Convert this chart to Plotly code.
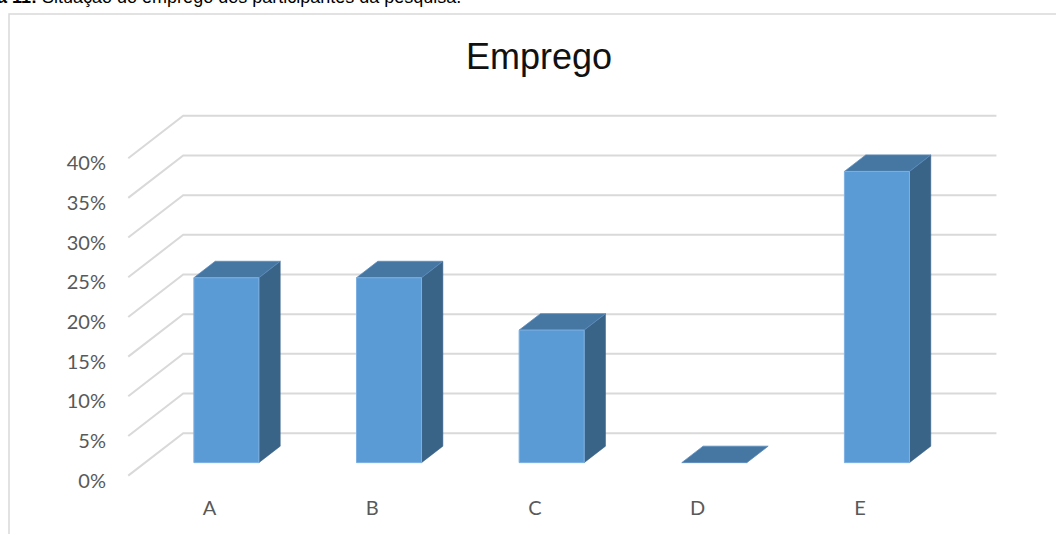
import plotly.graph_objects as go

# Employment situation of the survey participants (share of respondents, %)
categories = ["A", "B", "C", "D", "E"]
values = [23.3, 23.3, 16.7, 0.0, 36.7]
tick_values = [0, 5, 10, 15, 20, 25, 30, 35, 40]
tick_labels = [f"{v}%" for v in tick_values]

# Oblique depth of the 3-D box, in data units (x: category units, y: percent)
DX = 0.338
DY = 5.35
# Depth planes occupied by the columns (fractions of full depth)
F_FRONT = 0.306
F_BACK = 0.694
HALF_W = 0.2

FRONT = "#5B9BD5"
TOP = "#4676A2"
SIDE = "#3A6388"
EDGE = "#7DB0E2"
GRID = "#D9D9D9"

x_left = -0.5
x_right = len(categories) - 0.5

fig = go.Figure()


def face(xs, ys, fill, edge, width, hover=None):
    fig.add_trace(go.Scatter(
        x=xs + [xs[0]], y=ys + [ys[0]],
        mode="lines", fill="toself", fillcolor=fill,
        line=dict(color=edge, width=width),
        hoverinfo="text" if hover else "skip", text=hover,
        hoveron="fills", showlegend=False,
    ))


# Side wall (diagonal) grid lines and back wall grid lines
for v in tick_values:
    fig.add_trace(go.Scatter(
        x=[x_left, x_left + DX, x_right + DX],
        y=[v, v + DY, v + DY],
        mode="lines", line=dict(color=GRID, width=2),
        hoverinfo="skip", showlegend=False,
    ))

# Columns: right side, top and front faces in oblique projection
for i, (cat, v) in enumerate(zip(categories, values)):
    xf = i + F_FRONT * DX
    xb = i + F_BACK * DX
    yf = F_FRONT * DY
    yb = F_BACK * DY
    if v > 0:
        face([xf + HALF_W, xb + HALF_W, xb + HALF_W, xf + HALF_W],
             [yf, yb, yb + v, yf + v], SIDE, SIDE, 0.5)
    face([xf - HALF_W, xf + HALF_W, xb + HALF_W, xb - HALF_W],
         [yf + v, yf + v, yb + v, yb + v], TOP, "#5A8BBE", 0.8)
    if v > 0:
        face([xf - HALF_W, xf + HALF_W, xf + HALF_W, xf - HALF_W],
             [yf, yf, yf + v, yf + v], FRONT, EDGE, 1,
             hover=f"{cat}: {v}%")

L, R, T, B = 125, 56, 113, 56
W, H = 1056, 534
plot_w = W - L - R
plot_h = H - T - B


def px_x(px):
    return (px - L) / plot_w


def px_y(py):
    return (H - B - py) / plot_h


fig.update_layout(
    width=W, height=H,
    margin=dict(l=L, r=R, t=T, b=B),
    paper_bgcolor="white", plot_bgcolor="white",
    xaxis=dict(
        range=[-0.52, 4.86], showgrid=False, zeroline=False, showline=False,
        tickmode="array", tickvals=list(range(len(categories))), ticktext=categories,
        tickfont=dict(family="Lato", size=20, color="#595959"),
        ticks="", ticklabelstandoff=16, fixedrange=True,
    ),
    yaxis=dict(
        range=[-0.3, 45.7], showgrid=False, zeroline=False, showline=False,
        tickmode="array", tickvals=tick_values, ticktext=tick_labels,
        tickfont=dict(family="Lato", size=20, color="#595959"),
        ticks="", ticklabelstandoff=18, ticklabelshift=5, fixedrange=True,
    ),
    shapes=[dict(
        type="rect", xref="paper", yref="paper",
        x0=px_x(9), x1=px_x(1070), y0=px_y(560), y1=px_y(14),
        line=dict(color="#D9D9D9", width=1.5), fillcolor="rgba(0,0,0,0)",
        layer="below",
    )],
    annotations=[
        dict(
            text="Emprego", xref="paper", yref="paper",
            x=px_x(539), y=px_y(56), xanchor="center", yanchor="middle",
            showarrow=False,
            font=dict(family="Liberation Sans, Arial", size=36, color="#111111"),
        ),
        dict(
            text="<b>Figura 11:</b> Situação do emprego dos participantes da pesquisa.",
            xref="paper", yref="paper",
            x=px_x(463), y=px_y(-3), xanchor="right", yanchor="middle",
            showarrow=False,
            font=dict(family="Liberation Sans, Arial", size=18, color="#000000"),
        ),
    ],
)

fig.write_html("out.html")
